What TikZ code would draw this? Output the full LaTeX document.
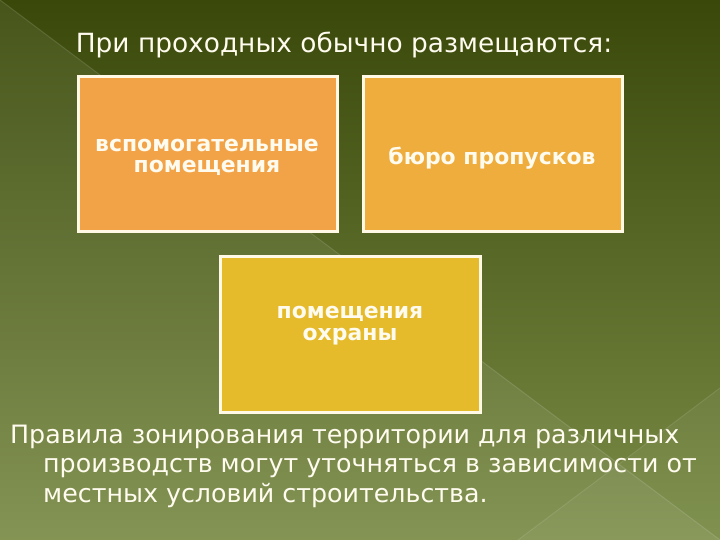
\documentclass[tikz,border=0pt]{standalone}
\usepackage{fontspec}
\setmainfont{DejaVu Sans}
\definecolor{bgtop}{HTML}{3A490A}
\definecolor{bgmid}{HTML}{4B5D13}
\definecolor{bgbot}{HTML}{7A8C47}
\definecolor{boxA}{HTML}{F2A347}
\definecolor{boxB}{HTML}{EFAD3D}
\definecolor{boxC}{HTML}{E5BA2B}
\definecolor{rim}{HTML}{FFF9E6}
\definecolor{txt}{HTML}{FFFBEF}
\tikzset{
  card/.style={draw=rim, line width=3bp, inner sep=0pt},
  cardtext/.style={text=txt, font=\fontsize{22}{24}\selectfont\bfseries, align=center, inner sep=0pt},
  titletext/.style={text=txt, font=\fontsize{26.5}{30}\selectfont, inner sep=0pt},
  bigtext/.style={text=txt, font=\fontsize{25.4}{30}\selectfont, inner sep=0pt},
}
\begin{document}
\begin{tikzpicture}[x=1bp,y=-1bp]
\useasboundingbox (0,0) rectangle (720,540);
% background
\shade[top color=bgtop, middle color=bgmid, bottom color=bgbot] (0,0) rectangle (720,540);
\fill[white, opacity=0.07] (0,0) -- (720,540) -- (0,540) -- cycle;
\draw[white, opacity=0.12, line width=1bp] (0,0) -- (720,540);
\fill[white, opacity=0.05] (518,540) -- (720,388) -- (720,540) -- cycle;
\draw[white, opacity=0.10, line width=1bp] (518,540) -- (720,388);
% title
\node[titletext, anchor=base] (title) at (344,53) {При проходных обычно размещаются:};
% cards
\filldraw[card, fill=boxA] (78,77) rectangle (337,232);
\filldraw[card, fill=boxB] (363,77) rectangle (622,232);
\filldraw[card, fill=boxC] (220,257) rectangle (480,412);
\node[cardtext, anchor=base] (a1) at (207,152) {вспомогательные};
\node[cardtext, anchor=base] (a2) at (207,173) {помещения};
\node[cardtext, anchor=base] (b1) at (492,165) {бюро пропусков};
\node[cardtext, anchor=base] (c1) at (350,318) {помещения};
\node[cardtext, anchor=base] (c2) at (350,340) {охраны};
% bottom text
\node[bigtext, anchor=base west] (p1) at (10,443) {Правила зонирования территории для различных};
\node[bigtext, anchor=base west] (p2) at (43,472) {производств могут уточняться в зависимости от};
\node[bigtext, anchor=base west] (p3) at (43,502) {местных условий строительства.};
\end{tikzpicture}
\end{document}
